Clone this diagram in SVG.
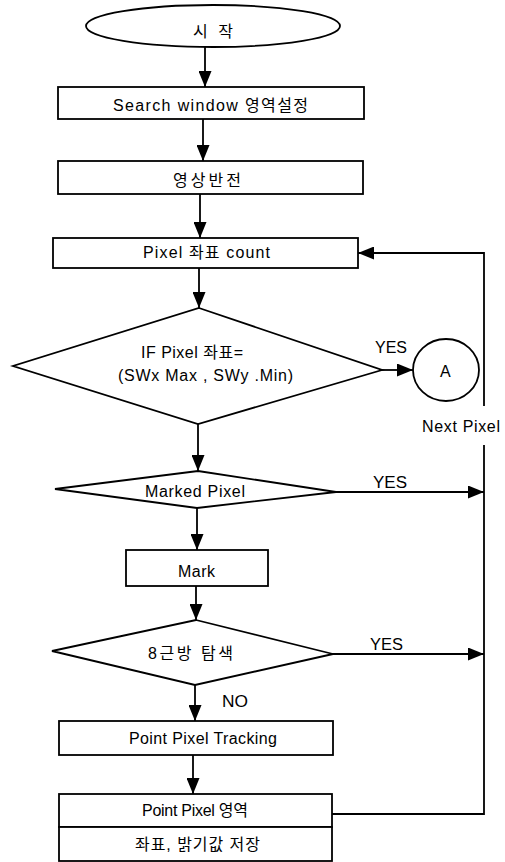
<svg xmlns="http://www.w3.org/2000/svg" width="505" height="862" viewBox="0 0 505 862">
<style>
.s{fill:#fff;stroke:#000;stroke-width:1.8}
.c{fill:none;stroke:#000;stroke-width:1.8}
text{font-family:"Liberation Sans","Noto Sans CJK KR",sans-serif;font-size:16px;fill:#000}
</style>
<defs>
<marker id="ah" markerUnits="userSpaceOnUse" markerWidth="16" markerHeight="13" refX="16" refY="6.5" orient="auto">
<path d="M0,0 L16,6.5 L0,13 z" fill="#000"/>
</marker>
</defs>
<rect width="505" height="862" fill="#fff"/>
<g id="connectors">
<line class="c" x1="205" y1="47" x2="205" y2="87" marker-end="url(#ah)"/>
<line class="c" x1="203" y1="119" x2="203" y2="161" marker-end="url(#ah)"/>
<line class="c" x1="200" y1="194" x2="200" y2="238" marker-end="url(#ah)"/>
<line class="c" x1="199" y1="268" x2="199" y2="308" marker-end="url(#ah)"/>
<line class="c" x1="382" y1="370" x2="413" y2="370" marker-end="url(#ah)"/>
<line class="c" x1="198" y1="424" x2="198" y2="471" marker-end="url(#ah)"/>
<line class="c" x1="336" y1="492" x2="484" y2="492" marker-end="url(#ah)"/>
<line class="c" x1="197" y1="508" x2="197" y2="550" marker-end="url(#ah)"/>
<line class="c" x1="196" y1="586" x2="196" y2="620" marker-end="url(#ah)"/>
<line class="c" x1="333" y1="654" x2="484" y2="654" marker-end="url(#ah)"/>
<line class="c" x1="195" y1="685" x2="195" y2="721" marker-end="url(#ah)"/>
<line class="c" x1="193" y1="755" x2="193" y2="794" marker-end="url(#ah)"/>
<polyline class="c" points="332,814 484,814 484,445"/>
<polyline class="c" points="484,406 484,253 358,253" marker-end="url(#ah)"/>
<text x="375" y="353" textLength="32" lengthAdjust="spacingAndGlyphs">YES</text>
<text x="422" y="432" textLength="78" lengthAdjust="spacing">Next Pixel</text>
<text x="373" y="488" textLength="34" lengthAdjust="spacingAndGlyphs">YES</text>
<text x="370" y="650" textLength="33" lengthAdjust="spacingAndGlyphs">YES</text>
<text x="222" y="707" textLength="26" lengthAdjust="spacingAndGlyphs">NO</text>
</g>
<g id="start">
<ellipse class="s" cx="213" cy="26" rx="127" ry="21"/>
<text x="193" y="37" textLength="40" lengthAdjust="spacing">시 작</text>
</g>
<g id="search">
<rect class="s" x="58" y="87" width="306" height="32"/>
<text x="113" y="111" textLength="195" lengthAdjust="spacing">Search window 영역설정</text>
</g>
<g id="invert">
<rect class="s" x="58" y="161" width="305" height="33"/>
<text x="173" y="186" textLength="68" lengthAdjust="spacing">영상반전</text>
</g>
<g id="count">
<rect class="s" x="53" y="238" width="305" height="30"/>
<text x="143" y="258" textLength="127" lengthAdjust="spacing">Pixel 좌표 count</text>
</g>
<g id="ifpixel">
<polygon class="s" points="199,308 382,370 198,424 13,366"/>
<text x="141" y="358" textLength="102" lengthAdjust="spacing">IF Pixel 좌표=</text>
<text x="118" y="381" textLength="175" lengthAdjust="spacing">(SWx Max , SWy .Min)</text>
</g>
<g id="a">
<ellipse class="s" cx="446" cy="370" rx="33" ry="31"/>
<text x="440" y="377" font-size="14">A</text>
</g>
<g id="marked">
<polygon class="s" points="198,471 336,492 197,508 55,489"/>
<text x="145" y="497" textLength="100" lengthAdjust="spacing">Marked Pixel</text>
</g>
<g id="mark">
<rect class="s" x="126" y="550" width="142" height="36"/>
<text x="178" y="577" textLength="37" lengthAdjust="spacing">Mark</text>
</g>
<g id="search8">
<polygon class="s" points="196,620 333,654 195,685 52,651"/>
<text x="148" y="659" textLength="85" lengthAdjust="spacing">8근방 탐색</text>
</g>
<g id="tracking">
<rect class="s" x="59" y="721" width="274" height="34"/>
<text x="129" y="744" textLength="148" lengthAdjust="spacing">Point Pixel Tracking</text>
</g>
<g id="region">
<rect class="s" x="59" y="794" width="273" height="33"/>
<text x="142" y="816" textLength="106" lengthAdjust="spacing">Point Pixel 영역</text>
</g>
<g id="store">
<rect class="s" x="59" y="827" width="273" height="34"/>
<text x="135" y="850" textLength="125" lengthAdjust="spacing">좌표, 밝기값 저장</text>
</g>
</svg>
